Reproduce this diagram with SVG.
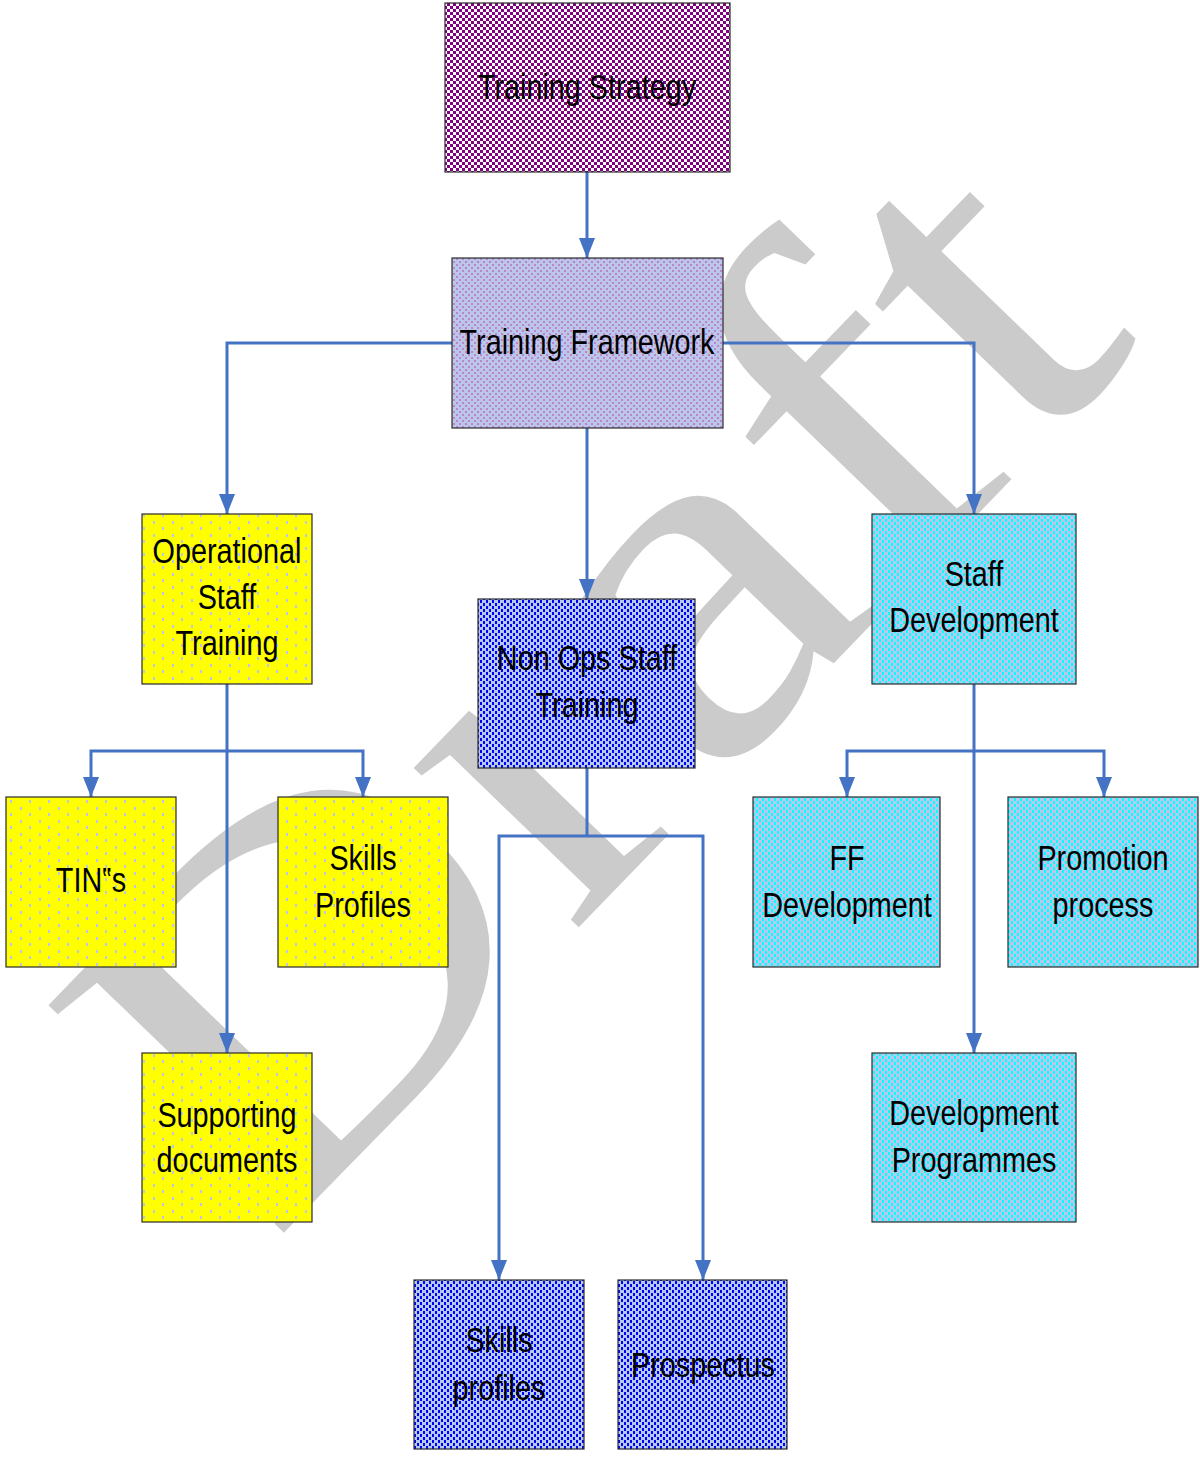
<svg xmlns="http://www.w3.org/2000/svg" width="1200" height="1461" viewBox="0 0 1200 1461">
<defs>
<style>
.box{stroke:#2b2b2b;stroke-width:1.2}
.lbl{font-family:"Liberation Sans",Arial,sans-serif;font-size:36px;fill:#000;text-anchor:middle}
.conn{fill:none;stroke:#4472C4;stroke-width:3;marker-end:url(#arr)}
.plain{fill:none;stroke:#4472C4;stroke-width:3}
.wm{font-family:"Liberation Serif","Times New Roman",serif;font-size:500px;fill:#cbcbcb}
</style>
<marker id="arr" viewBox="0 0 20 16" markerWidth="20" markerHeight="16" refX="20" refY="8" orient="auto" markerUnits="userSpaceOnUse">
<path d="M0,0 L20,8 L0,16 z" fill="#4472C4"/>
</marker>
<pattern id="pPurple" width="6" height="6" patternUnits="userSpaceOnUse">
<rect width="6" height="6" fill="#ffffff"/>
<rect x="0" y="0" width="3" height="3" fill="#800080"/>
<rect x="3" y="3" width="3" height="3" fill="#800080"/>
</pattern>
<pattern id="pFrame" width="6" height="6" patternUnits="userSpaceOnUse">
<rect width="6" height="6" fill="#bcc6e8"/>
<rect x="0" y="0" width="2" height="2" fill="#b985cf"/>
<rect x="3" y="3" width="2" height="2" fill="#b985cf"/>
</pattern>
<pattern id="pYellow" width="19" height="13" patternUnits="userSpaceOnUse">
<rect width="19" height="13" fill="#ffff00"/>
<rect x="1" y="1" width="2" height="3" fill="#bcc6e8"/>
<rect x="10" y="7" width="2" height="3" fill="#bcc6e8"/>
</pattern>
<pattern id="pBlue" width="6" height="6" patternUnits="userSpaceOnUse">
<rect width="6" height="6" fill="#b6c8ec"/>
<rect x="0" y="0" width="2" height="3" fill="#0000ff"/>
<rect x="3" y="3" width="2" height="3" fill="#0000ff"/>
</pattern>
<pattern id="pCyan" width="6" height="6" patternUnits="userSpaceOnUse">
<rect width="6" height="6" fill="#b6c8ec"/>
<rect x="0" y="0" width="2" height="3" fill="#00ffff"/>
<rect x="3" y="3" width="2" height="3" fill="#00ffff"/>
</pattern>
</defs>
<rect width="1200" height="1461" fill="#ffffff"/>
<g id="watermark">
<text class="wm" transform="translate(272,1245) rotate(-46) scale(1.19,1)">Draft</text>
</g>
<g id="connectors">
<path class="conn" d="M587,172 V258"/>
<path class="conn" d="M452,343 H227 V514"/>
<path class="conn" d="M723,343 H974 V514"/>
<path class="conn" d="M587,428 V599"/>
<path class="conn" d="M227,684 V1053"/>
<path class="conn" d="M227,751 H91 V797"/>
<path class="conn" d="M227,751 H363 V797"/>
<path class="plain" d="M587,768 V836"/>
<path class="conn" d="M587,836 H499 V1280"/>
<path class="conn" d="M587,836 H703 V1280"/>
<path class="conn" d="M974,684 V1053"/>
<path class="conn" d="M974,751 H847 V797"/>
<path class="conn" d="M974,751 H1104 V797"/>
</g>
<g id="training-strategy">
<rect class="box" x="445" y="3" width="285" height="169" fill="url(#pPurple)"/>
<text class="lbl" transform="translate(587,0) scale(0.8,1)"><tspan x="0" y="99">Training Strategy</tspan></text>
</g>
<g id="training-framework">
<rect class="box" x="452" y="258" width="271" height="170" fill="url(#pFrame)"/>
<text class="lbl" transform="translate(587,0) scale(0.8,1)"><tspan x="0" y="354">Training Framework</tspan></text>
</g>
<g id="operational-staff-training">
<rect class="box" x="142" y="514" width="170" height="170" fill="url(#pYellow)"/>
<text class="lbl" transform="translate(227,0) scale(0.8,1)"><tspan x="0" y="563">Operational</tspan><tspan x="0" y="609">Staff</tspan><tspan x="0" y="655">Training</tspan></text>
</g>
<g id="non-ops-staff-training">
<rect class="box" x="478" y="599" width="217" height="169" fill="url(#pBlue)"/>
<text class="lbl" transform="translate(587,0) scale(0.8,1)"><tspan x="0" y="670">Non Ops Staff</tspan><tspan x="0" y="717">Training</tspan></text>
</g>
<g id="staff-development">
<rect class="box" x="872" y="514" width="204" height="170" fill="url(#pCyan)"/>
<text class="lbl" transform="translate(974,0) scale(0.8,1)"><tspan x="0" y="586">Staff</tspan><tspan x="0" y="632">Development</tspan></text>
</g>
<g id="tins">
<rect class="box" x="6" y="797" width="170" height="170" fill="url(#pYellow)"/>
<text class="lbl" transform="translate(91,0) scale(0.8,1)"><tspan x="0" y="892">TIN‟s</tspan></text>
</g>
<g id="skills-profiles-ops">
<rect class="box" x="278" y="797" width="170" height="170" fill="url(#pYellow)"/>
<text class="lbl" transform="translate(363,0) scale(0.8,1)"><tspan x="0" y="870">Skills</tspan><tspan x="0" y="917">Profiles</tspan></text>
</g>
<g id="supporting-documents">
<rect class="box" x="142" y="1053" width="170" height="169" fill="url(#pYellow)"/>
<text class="lbl" transform="translate(227,0) scale(0.8,1)"><tspan x="0" y="1127">Supporting</tspan><tspan x="0" y="1172">documents</tspan></text>
</g>
<g id="ff-development">
<rect class="box" x="753" y="797" width="187" height="170" fill="url(#pCyan)"/>
<text class="lbl" transform="translate(847,0) scale(0.8,1)"><tspan x="0" y="870">FF</tspan><tspan x="0" y="917">Development</tspan></text>
</g>
<g id="promotion-process">
<rect class="box" x="1008" y="797" width="190" height="170" fill="url(#pCyan)"/>
<text class="lbl" transform="translate(1103,0) scale(0.8,1)"><tspan x="0" y="870">Promotion</tspan><tspan x="0" y="917">process</tspan></text>
</g>
<g id="development-programmes">
<rect class="box" x="872" y="1053" width="204" height="169" fill="url(#pCyan)"/>
<text class="lbl" transform="translate(974,0) scale(0.8,1)"><tspan x="0" y="1125">Development</tspan><tspan x="0" y="1172">Programmes</tspan></text>
</g>
<g id="skills-profiles-nonops">
<rect class="box" x="414" y="1280" width="170" height="169" fill="url(#pBlue)"/>
<text class="lbl" transform="translate(499,0) scale(0.8,1)"><tspan x="0" y="1352">Skills</tspan><tspan x="0" y="1400">profiles</tspan></text>
</g>
<g id="prospectus">
<rect class="box" x="618" y="1280" width="169" height="169" fill="url(#pBlue)"/>
<text class="lbl" transform="translate(703,0) scale(0.8,1)"><tspan x="0" y="1377">Prospectus</tspan></text>
</g>
</svg>
